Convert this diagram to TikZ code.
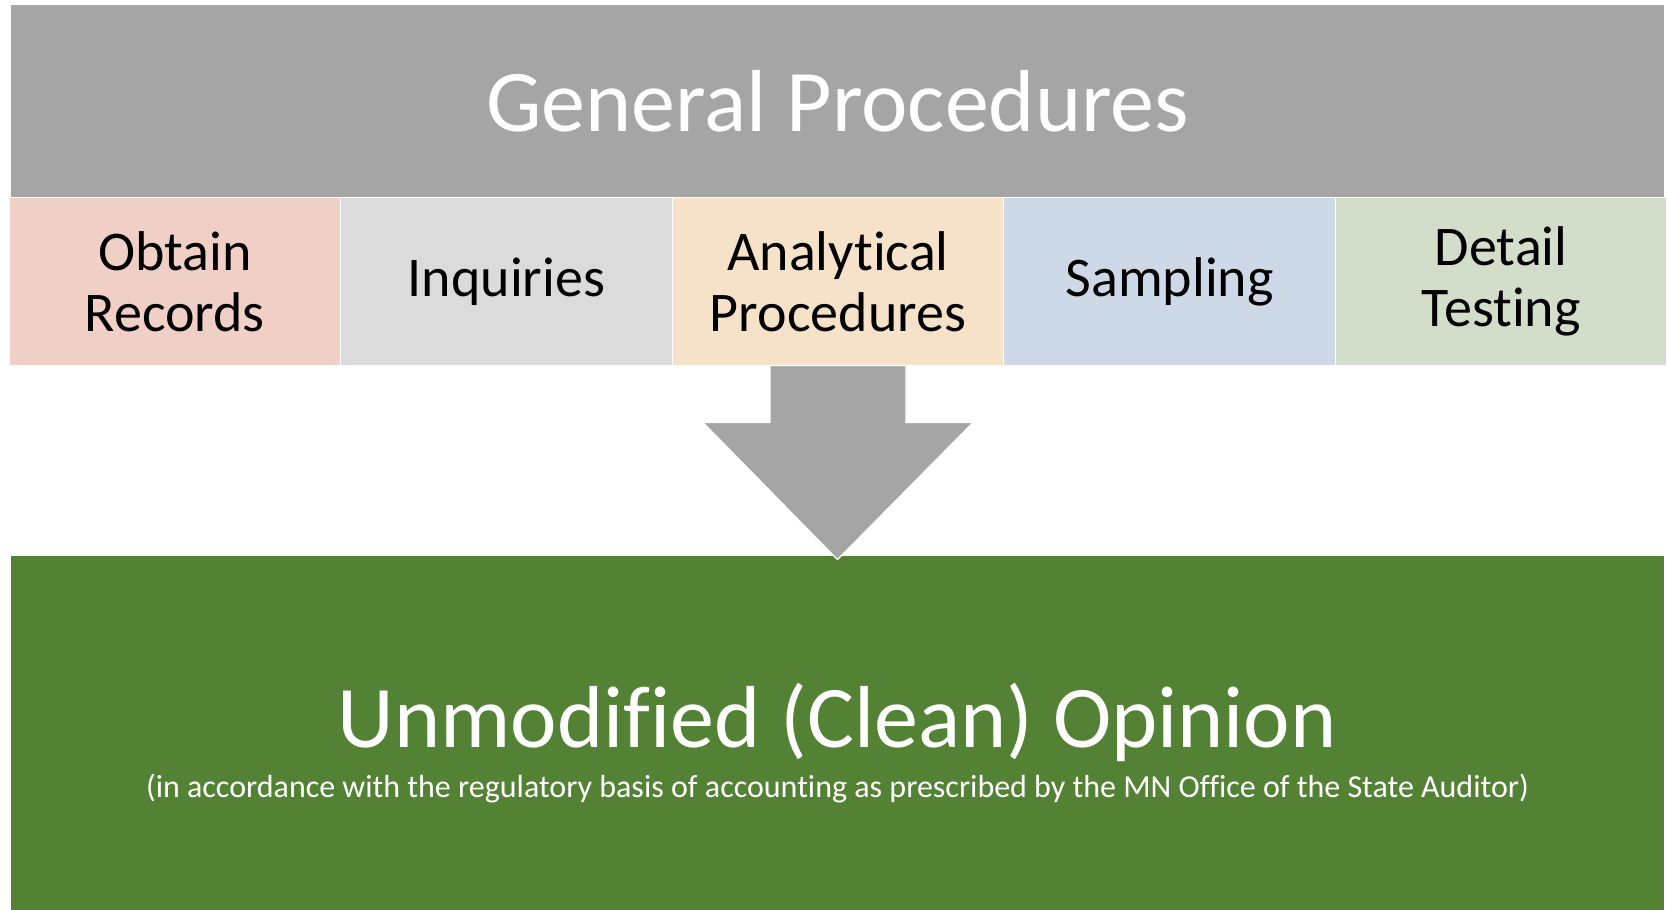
\documentclass[tikz,border=0pt]{standalone}
\usepackage{fontspec}
\setmainfont{Carlito}[Ligatures=NoCommon]
\usetikzlibrary{positioning,calc}
\definecolor{headgray}{RGB}{165,165,165}
\definecolor{opiniongreen}{RGB}{84,130,53}
\definecolor{obtainpink}{RGB}{240,207,198}
\definecolor{inqgray}{RGB}{219,219,219}
\definecolor{analytictan}{RGB}{246,225,201}
\definecolor{samplingblue}{RGB}{205,217,231}
\definecolor{detailgreen}{RGB}{210,221,202}

\tikzset{
  procbox/.style={draw=white, line width=0.6pt, outer sep=0pt, minimum width=165.8pt, minimum height=84pt,
    inner sep=0pt, align=center, font=\fontsize{28}{30.5}\selectfont}
}

\begin{document}
\begin{tikzpicture}[x=0.5pt, y=-0.5pt]
  \useasboundingbox[fill=white] (0,0) rectangle (1667,910);
  \node[fill=headgray, minimum width=826.5pt, minimum height=96pt, inner sep=0pt, text=white,
    font=\fontsize{44}{46}\selectfont] (general) at (837.5,101) {General Procedures};
  \node[procbox, fill=obtainpink] (obtain) at (174.8,281.5) {Obtain\\Records};
  \node[procbox, fill=inqgray, right=0pt of obtain] (inquiries) {Inquiries};
  \node[procbox, fill=analytictan, right=0pt of inquiries] (analytical) {Analytical\\Procedures};
  \node[procbox, fill=samplingblue, right=0pt of analytical] (sampling) {Sampling};
  \node[procbox, fill=detailgreen, right=0pt of sampling] (detail) {Detail\\Testing};
  \node[fill=opiniongreen, minimum width=826.5pt, minimum height=177pt, inner sep=0pt, text=white,
    align=center, font=\fontsize{16}{23}\selectfont] (opinion) at (837.5,733)
    {\rule{0pt}{42pt}{\fontsize{44}{44}\selectfont Unmodified (Clean) Opinion}\\[2pt]
     (in accordance with the regulatory basis of accounting as prescribed by the MN Office of the State Auditor)};
  % block arrow
  \fill[headgray, draw=white, line width=0.6pt]
    ($(analytical.south)+(-68,0)$) -- ($(analytical.south)+(68,0)$) -- ($(analytical.south)+(68,57)$)
    -- ($(analytical.south)+(135,57)$) -- ($(opinion.north)+(0,4)$) -- ($(analytical.south)+(-135,57)$)
    -- ($(analytical.south)+(-68,57)$) -- cycle;
\end{tikzpicture}
\end{document}
